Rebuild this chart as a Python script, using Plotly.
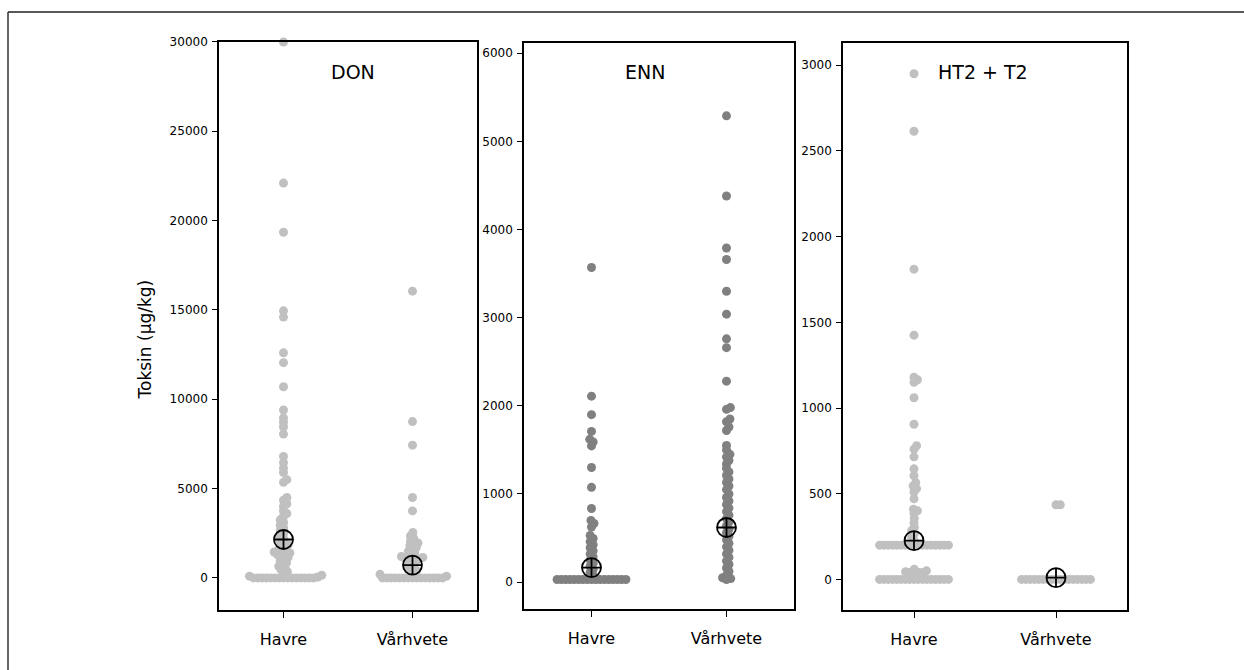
import math
import plotly.graph_objects as go

W, H = 1244, 670
# vertical calibration of the photographed page (target pixel -> layout pixel)
Y_OFF, Y_SCALE = 6.0, 670.0 / 664.0


def ypap(Y):
    return 1 - ((Y - Y_OFF) * Y_SCALE) / H


categories = ["Havre", "Vårhvete"]
panel_titles = ["DON", "ENN", "HT2 + T2"]

don_havre = [30000, 22100, 19350, 14950, 14600, 12600, 12050, 10700, 9400, 8950, 8700, 8450, 8050,
             6800, 6450, 6150, 5900, 5500, 5350, 4500, 4350, 4150, 4000, 3750, 3600, 3450, 3250,
             3100, 2950, 2800, 2650, 2500, 2350, 2200, 2050, 1950, 1850, 1750, 1650, 1550, 1500,
             1450, 1400, 1350, 1300, 1250, 1150, 1050, 950, 850, 750, 650, 550, 450, 350, 250,
             150, 100, 50,
             0, 0, 0, 0, 0, 0, 0, 0, 0, 0, 0, 0, 0, 0, 0]
don_varhvete = [16050, 8750, 7430, 4500, 3750, 2550, 2350, 2200, 2050, 1950, 1900, 1800, 1700,
                1600, 1500, 1400, 1300, 1200, 1150, 1100, 1100, 1050, 1000, 900, 800, 700, 600,
                500, 400, 300, 200, 100,
                0, 0, 0, 0, 0, 0, 0, 0, 0, 0, 0, 0, 0, 0, 0]
enn_havre = [3570, 2110, 1900, 1710, 1620, 1590, 1545, 1300, 1075, 835, 700, 665, 625, 530, 495,
             460, 425, 390, 355, 320, 285, 250, 215, 180, 145, 110, 75,
             30, 30, 30, 30, 30, 30, 30, 30, 30, 30, 30, 30, 30, 30, 30, 30, 30]
enn_varhvete = [5290, 4380, 3790, 3660, 3300, 3040, 2760, 2660, 2280, 1980, 1960, 1850, 1820,
                1760, 1720, 1550, 1500, 1450, 1420, 1380, 1340, 1290, 1250, 1210, 1170, 1130,
                1090, 1050, 1000, 960, 920, 880, 840, 800, 760, 720, 680, 640, 600, 560, 520,
                480, 440, 400, 360, 320, 280, 240, 200, 160, 120, 80, 50, 40, 30]
ht2_havre = [2950, 2615, 1810, 1425, 1180, 1165, 1150, 1060, 905, 780, 760, 715, 645, 605, 565,
             545, 530, 510, 470, 410, 400, 385, 355, 330, 305, 285, 265, 245, 225,
             200, 200, 200, 200, 200, 200, 200, 200, 200, 200, 200, 200, 200, 200, 200, 200, 200,
             60, 50, 45, 40, 40, 40, 35,
             0, 0, 0, 0, 0, 0, 0, 0, 0, 0, 0, 0, 0, 0, 0, 0, 0]
ht2_varhvete = [435, 435,
                0, 0, 0, 0, 0, 0, 0, 0, 0, 0, 0, 0, 0, 0, 0, 0, 0]

means = [[2150, 720], [165, 620], [226, 10]]
series = [[don_havre, don_varhvete], [enn_havre, enn_varhvete], [ht2_havre, ht2_varhvete]]
colors = ["#c0c0c0", "#808080", "#c0c0c0"]
y_ranges = [[-1800, 30000], [-306, 6117], [-179, 3130]]
y_dtick = [5000, 1000, 500]

# panel pixel boxes in the target picture (left, top, right, bottom)
boxes = [(219, 41, 477, 610), (524, 42, 794, 609), (843, 42, 1127, 610)]
X_RANGE = [-0.5, 1.5]


def swarm(values, px_per_unit, s):
    n = len(values)
    order = sorted(range(n), key=lambda i: values[i])
    placed = []
    xs = [0.0] * n
    for i in order:
        y = values[i] * px_per_unit
        cands = [0.0]
        for xj, yj in placed:
            dy = y - yj
            if abs(dy) < s:
                dx = math.sqrt(s * s - dy * dy)
                cands += [xj + dx, xj - dx]
        cands.sort(key=abs)
        for c in cands:
            if all((c - xj) ** 2 + (y - yj) ** 2 >= s * s - 1e-6 for xj, yj in placed):
                xs[i] = c
                placed.append((c, y))
                break
    return xs


fig = go.Figure()
S = 4.3
for p in range(3):
    l, t, r, b = boxes[p]
    pw, ph = r - l, b - t
    ppu = ph / (y_ranges[p][1] - y_ranges[p][0])
    xunit = (X_RANGE[1] - X_RANGE[0]) / pw
    ax = "" if p == 0 else str(p + 1)
    for c in range(2):
        vals = series[p][c]
        offs = swarm(vals, ppu, S)
        fig.add_trace(go.Scatter(
            x=[c + o * xunit for o in offs], y=vals, mode="markers",
            marker=dict(size=9, color=colors[p], line=dict(width=0)),
            xaxis="x" + ax, yaxis="y" + ax, showlegend=False, cliponaxis=False,
            hoverinfo="skip"))
    fig.add_trace(go.Scatter(
        x=[0, 1], y=means[p], mode="markers",
        marker=dict(size=19, symbol="circle-cross-open", color="black",
                    line=dict(width=1.8, color="black")),
        xaxis="x" + ax, yaxis="y" + ax, showlegend=False, cliponaxis=False, hoverinfo="skip"))

layout = dict(
    width=W, height=H, autosize=False,
    margin=dict(l=0, r=0, t=0, b=0),
    paper_bgcolor="white", plot_bgcolor="white",
    font=dict(family="DejaVu Sans", color="black"),
)
for p in range(3):
    l, t, r, b = boxes[p]
    ax = "" if p == 0 else str(p + 1)
    layout["xaxis" + ax] = dict(
        domain=[l / W, r / W], range=X_RANGE, anchor="y" + ax,
        tickvals=[0, 1], ticktext=categories, ticks="outside", ticklen=6, tickwidth=1.3,
        tickcolor="black", showline=True, mirror=True, linecolor="black", linewidth=1.6,
        showgrid=False, zeroline=False, tickfont=dict(size=16, family="DejaVu Sans"),
        ticklabelstandoff=8, fixedrange=True)
    layout["yaxis" + ax] = dict(
        domain=[ypap(b), ypap(t)], range=y_ranges[p], anchor="x" + ax,
        dtick=y_dtick[p], tick0=0, tickformat="d", ticks="outside", ticklen=5, tickwidth=1.3,
        tickcolor="black", showline=True, mirror=True, linecolor="black", linewidth=1.6,
        showgrid=False, zeroline=False, tickfont=dict(size=12, family="DejaVu Sans"),
        ticklabelstandoff=2, fixedrange=True)

fig.update_layout(**layout)

title_pos = [(353, 71), (645, 71), (983, 71)]
for (x, y), txt in zip(title_pos, panel_titles):
    fig.add_annotation(text=txt, x=x / W, y=ypap(y), xref="paper", yref="paper",
                       showarrow=False, font=dict(size=19, family="DejaVu Sans"),
                       xanchor="center", yanchor="middle")

fig.add_annotation(text="Toksin (µg/kg)", x=145 / W, y=ypap(339), xref="paper", yref="paper",
                   showarrow=False, textangle=-90, font=dict(size=17, family="DejaVu Sans"),
                   xanchor="center", yanchor="middle")

# outer frame (top and left edges visible)
fig.add_shape(type="line", xref="paper", yref="paper", x0=8 / W, x1=1.0, y0=ypap(11), y1=ypap(11),
              line=dict(color="#222222", width=1.5))
fig.add_shape(type="line", xref="paper", yref="paper", x0=8 / W, x1=8 / W, y0=ypap(11), y1=0,
              line=dict(color="#333333", width=1.5))

fig.write_html("out.html")
